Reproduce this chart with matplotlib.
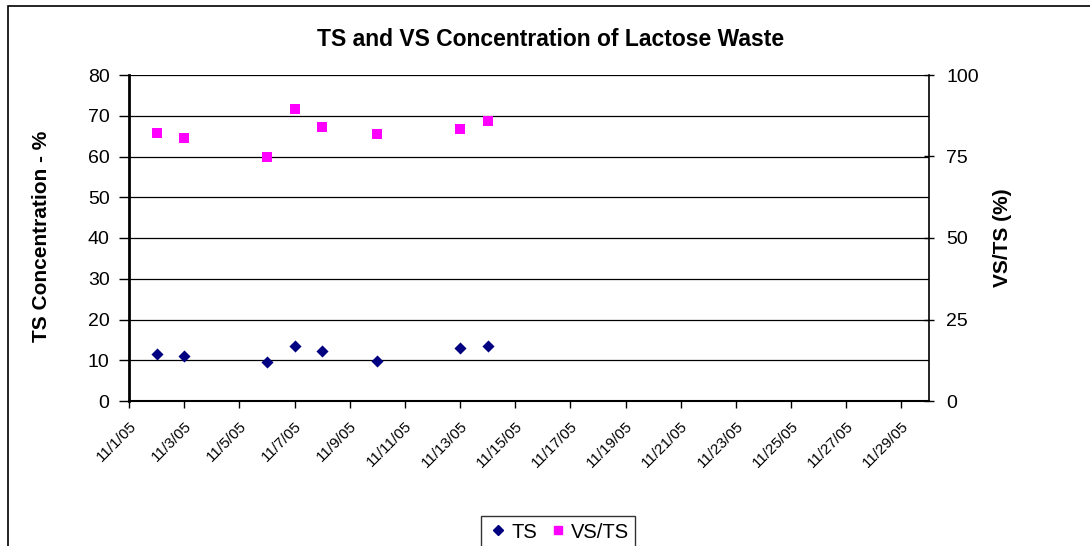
import matplotlib
matplotlib.use("Agg")
import matplotlib.pyplot as plt
import matplotlib.dates as mdates
from matplotlib.patches import Rectangle
from matplotlib.lines import Line2D
import datetime as dt

plt.rcParams['font.family'] = ['Liberation Sans', 'DejaVu Sans']

dates = ["2005-11-02", "2005-11-03", "2005-11-06", "2005-11-07",
         "2005-11-08", "2005-11-10", "2005-11-13", "2005-11-14"]
ts_values = [11.5, 11.1, 9.5, 13.6, 12.2, 9.8, 12.9, 13.6]
vsts_values = [82.3, 80.6, 74.8, 89.7, 84.0, 81.9, 83.5, 85.8]
left_ticks = [0, 10, 20, 30, 40, 50, 60, 70, 80]
right_ticks = [0, 25, 50, 75, 100]
x_start, x_end = "2005-11-01", "2005-11-30"

W, H = 1090, 546
fig = plt.figure(figsize=(W / 100, H / 100), dpi=100)
fig.patch.set_facecolor('white')

# outer chart border (extends past right/bottom like the reference crop)
fig.add_artist(Rectangle((8 / W, -0.05), 1.1, 1 - 6 / H + 0.05,
                         transform=fig.transFigure, fill=False,
                         edgecolor='black', linewidth=1.2))

ax = fig.add_axes([129 / W, 1 - 401 / H, 800 / W, 326 / H])
x = [dt.datetime.strptime(d, "%Y-%m-%d") for d in dates]
xs = dt.datetime.strptime(x_start, "%Y-%m-%d")
xe = dt.datetime.strptime(x_end, "%Y-%m-%d")

ax.set_xlim(xs, xe)
ax.set_ylim(0, 80)
ax.set_yticks(left_ticks)
ax.yaxis.grid(True, color='black', linewidth=0.9)
ax.set_axisbelow(True)
ax.scatter(x, ts_values, marker='D', s=38, color='#000080', zorder=3,
           linewidths=0)

ax.xaxis.set_major_locator(mdates.DayLocator(bymonthday=range(1, 31, 2)))
ax.xaxis.set_major_formatter(
    plt.FuncFormatter(lambda v, p: (lambda d: f"{d.month}/{d.day}/{d.strftime('%y')}")(mdates.num2date(v))))
ax.tick_params(axis='x', labelsize=11, length=5, width=1, direction='out',
               labelrotation=45, pad=8)
for lab in ax.get_xticklabels():
    lab.set_ha('right')
    lab.set_rotation_mode('anchor')
ax.tick_params(axis='y', labelsize=14, length=7, width=1, direction='out', pad=7)

for s in ['top', 'right']:
    ax.spines[s].set_visible(False)
ax.spines['left'].set_linewidth(2)
ax.spines['bottom'].set_linewidth(1.5)

ax2 = ax.twinx()
ax2.set_ylim(0, 100)
ax2.set_yticks(right_ticks)
ax2.scatter(x, vsts_values, marker='s', s=48, color='#FF00FF', zorder=3,
            linewidths=0)
ax2.tick_params(axis='y', labelsize=14, length=7, width=1, direction='inout', pad=9)
for s in ['top', 'left', 'bottom']:
    ax2.spines[s].set_visible(False)
ax2.spines['right'].set_linewidth(1.2)
ax2.set_xlim(xs, xe)

fig.text(551 / W, 1 - 40 / H, "TS and VS Concentration of Lactose Waste",
         ha='center', va='center', fontsize=16.5, fontweight='bold')
fig.text(42 / W, 1 - 236 / H, "TS Concentration - %", ha='center', va='center',
         rotation=90, fontsize=15, fontweight='bold')
fig.text(1003 / W, 1 - 238 / H, "VS/TS (%)", ha='center', va='center',
         rotation=90, fontsize=15, fontweight='bold')

handles = [Line2D([], [], marker='D', linestyle='none', color='#000080',
                  markersize=5, label='TS'),
           Line2D([], [], marker='s', linestyle='none', color='#FF00FF',
                  markersize=6, label='VS/TS')]
leg = fig.legend(handles=handles, loc='center', bbox_to_anchor=(558 / W, 1 - 532 / H),
                 ncol=2, fontsize=14.5, frameon=True, fancybox=False,
                 handletextpad=0.1, columnspacing=0.5, borderpad=0.3,
                 handlelength=1.1)
leg.get_frame().set_edgecolor('black')
leg.get_frame().set_linewidth(1)

fig.savefig("out.png", dpi=100, facecolor='white')
